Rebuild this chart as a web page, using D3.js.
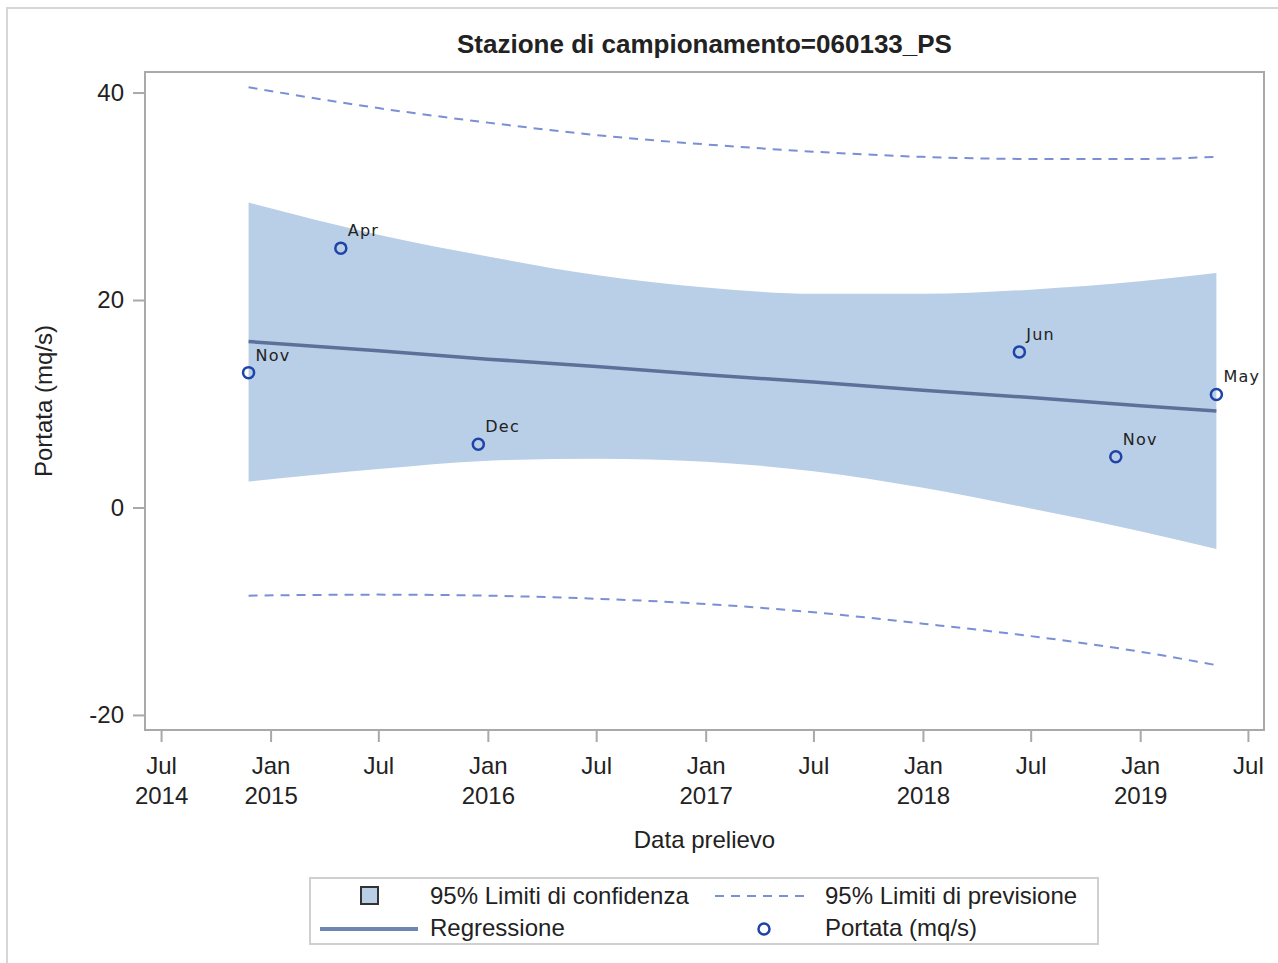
<!DOCTYPE html>
<html lang="it">
<head>
<meta charset="UTF-8">
<title>Stazione di campionamento=060133_PS</title>
<script src="https://cdn.jsdelivr.net/npm/d3@7"></script>
<style>
  body { margin: 0; background: #fff; }
  svg { display: block; }
  text { font-family: "Liberation Sans", Arial, sans-serif; fill: #222; }
</style>
</head>
<body>
<svg id="chart" width="1278" height="963"></svg>
<script>
// osservazioni
var obsDates  = ["2014-11-25", "2015-04-29", "2015-12-16", "2018-06-12", "2018-11-21", "2019-05-09"];
var obsLabels = ["Nov", "Apr", "Dec", "Jun", "Nov", "May"];
var portata   = [13.0, 25.0, 6.1, 15.0, 4.9, 10.9];

// retta di regressione e limiti al 95%
var fitDates    = ["2014-11-25", "2015-07-01", "2016-01-01", "2016-07-01", "2017-01-01",
                   "2017-07-01", "2018-01-01", "2018-07-01", "2019-01-01", "2019-05-09"];
var regressione = [16.0, 15.1, 14.3, 13.6, 12.8, 12.1, 11.3, 10.6, 9.8, 9.3];
var clmUpper    = [29.4, 26.3, 24.2, 22.4, 21.2, 20.6, 20.6, 21.0, 21.8, 22.6];
var clmLower    = [2.5, 3.7, 4.5, 4.7, 4.4, 3.5, 1.9, -0.1, -2.3, -4.0];
var cliUpper    = [40.5, 38.5, 37.1, 35.9, 35.0, 34.3, 33.8, 33.6, 33.6, 33.8];
var cliLower    = [-8.5, -8.4, -8.5, -8.8, -9.3, -10.1, -11.2, -12.4, -13.9, -15.2];

// assi
var xTickDates = ["2014-07-01", "2015-01-01", "2015-07-01", "2016-01-01", "2016-07-01", "2017-01-01",
                  "2017-07-01", "2018-01-01", "2018-07-01", "2019-01-01", "2019-07-01"];
var xTickMonth = ["Jul", "Jan", "Jul", "Jan", "Jul", "Jan", "Jul", "Jan", "Jul", "Jan", "Jul"];
var xTickYear  = ["2014", "2015", "", "2016", "", "2017", "", "2018", "", "2019", ""];
var yTicks = [-20, 0, 20, 40];

var parse = d3.utcParse("%Y-%m-%d");
var svg = d3.select("#chart");

var pl = 145, pr = 1264, pt = 72, pb = 730;

var x = d3.scaleUtc()
    .domain([parse("2014-06-04"), parse("2019-07-28")])
    .range([pl, pr]);
var y = d3.scaleLinear()
    .domain([-21.45, 41.98])
    .range([pb, pt]);

// cornice esterna (solo lati visibili)
svg.append("line").attr("x1", 7).attr("x2", 7).attr("y1", 8).attr("y2", 963)
    .attr("stroke", "#d6d6d6").attr("stroke-width", 2);
svg.append("line").attr("x1", 6).attr("x2", 1278).attr("y1", 8).attr("y2", 8)
    .attr("stroke", "#d6d6d6").attr("stroke-width", 2);

// titolo
svg.append("text")
    .attr("x", (pl + pr) / 2).attr("y", 53)
    .attr("text-anchor", "middle")
    .style("font-size", "26px").style("font-weight", "bold")
    .text("Stazione di campionamento=060133_PS");

var fit = fitDates.map(function(d, i) {
    return { date: parse(d), reg: regressione[i], lo: clmLower[i], hi: clmUpper[i],
             plo: cliLower[i], phi: cliUpper[i] };
});

// banda di confidenza
var band = d3.area()
    .x(function(d) { return x(d.date); })
    .y0(function(d) { return y(d.lo); })
    .y1(function(d) { return y(d.hi); })
    .curve(d3.curveMonotoneX);
svg.append("path").datum(fit).attr("d", band).attr("fill", "#b9cee7");

// limiti di previsione
["plo", "phi"].forEach(function(k) {
    var l = d3.line()
        .x(function(d) { return x(d.date); })
        .y(function(d) { return y(d[k]); })
        .curve(d3.curveMonotoneX);
    svg.append("path").datum(fit).attr("d", l)
        .attr("fill", "none").attr("stroke", "#7a8fd4")
        .attr("stroke-width", 2).attr("stroke-dasharray", "9,7");
});

// regressione
var regLine = d3.line()
    .x(function(d) { return x(d.date); })
    .y(function(d) { return y(d.reg); });
svg.append("path").datum(fit).attr("d", regLine)
    .attr("fill", "none").attr("stroke", "#5b7199").attr("stroke-width", 3.5);

// punti
var pts = obsDates.map(function(d, i) {
    return { date: parse(d), v: portata[i], lab: obsLabels[i] };
});
svg.selectAll(".pt").data(pts).enter().append("circle")
    .attr("class", "pt")
    .attr("cx", function(d) { return x(d.date); })
    .attr("cy", function(d) { return y(d.v); })
    .attr("r", 5.5)
    .attr("fill", "none").attr("stroke", "#1e44a8").attr("stroke-width", 2.5);
svg.selectAll(".lab").data(pts).enter().append("text")
    .attr("class", "lab")
    .attr("x", function(d) { return x(d.date) + 7; })
    .attr("y", function(d) { return y(d.v) - 12; })
    .style("font-family", "'DejaVu Sans', sans-serif")
    .style("font-size", "16px").style("letter-spacing", "1.2px")
    .attr("fill", "#1a1a1a")
    .text(function(d) { return d.lab; });

// cornice area dati
svg.append("rect")
    .attr("x", pl).attr("y", pt).attr("width", pr - pl).attr("height", pb - pt)
    .attr("fill", "none").attr("stroke", "#a9a9a9").attr("stroke-width", 2);

// asse y
var yAxis = svg.append("g").attr("transform", "translate(" + pl + ",0)")
    .call(d3.axisLeft(y).tickValues(yTicks).tickSize(12).tickPadding(9)
        .tickFormat(function(d) { return String(d); }));
yAxis.select(".domain").remove();
yAxis.selectAll(".tick line").attr("stroke", "#a9a9a9").attr("stroke-width", 2);
yAxis.selectAll(".tick text")
    .style("font-family", "'Liberation Sans', Arial, sans-serif")
    .style("font-size", "24px").attr("fill", "#222");

// asse x
var xAxis = svg.append("g").attr("transform", "translate(0," + pb + ")")
    .call(d3.axisBottom(x).tickValues(xTickDates.map(parse)).tickSize(12).tickFormat(""));
xAxis.select(".domain").remove();
xAxis.selectAll(".tick line").attr("stroke", "#a9a9a9").attr("stroke-width", 2);
xAxis.selectAll(".tick").each(function(d, i) {
    var t = d3.select(this).append("text")
        .attr("text-anchor", "middle")
        .style("font-family", "'Liberation Sans', Arial, sans-serif")
        .style("font-size", "24px").attr("fill", "#222");
    t.append("tspan").attr("x", 0).attr("y", 44).text(xTickMonth[i]);
    t.append("tspan").attr("x", 0).attr("y", 74).text(xTickYear[i]);
});

// titoli assi
svg.append("text")
    .attr("x", (pl + pr) / 2).attr("y", 848)
    .attr("text-anchor", "middle").style("font-size", "24px")
    .text("Data prelievo");
svg.append("text")
    .attr("transform", "translate(52," + (pt + pb) / 2 + ") rotate(-90)")
    .attr("text-anchor", "middle").style("font-size", "24px")
    .text("Portata (mq/s)");

// legenda
var lg = svg.append("g");
lg.append("rect").attr("x", 310).attr("y", 878).attr("width", 788).attr("height", 66)
    .attr("fill", "#fff").attr("stroke", "#d0d0d0").attr("stroke-width", 2);
lg.append("rect").attr("x", 361).attr("y", 887).attr("width", 17).attr("height", 17)
    .attr("fill", "#b9cee7").attr("stroke", "#333").attr("stroke-width", 2);
lg.append("line").attr("x1", 320).attr("x2", 418).attr("y1", 929).attr("y2", 929)
    .attr("stroke", "#6f87b0").attr("stroke-width", 4);
lg.append("line").attr("x1", 715).attr("x2", 806).attr("y1", 896).attr("y2", 896)
    .attr("stroke", "#7a8fd4").attr("stroke-width", 2).attr("stroke-dasharray", "9,7");
lg.append("circle").attr("cx", 764).attr("cy", 929).attr("r", 5.5)
    .attr("fill", "none").attr("stroke", "#1e44a8").attr("stroke-width", 2.5);
var lgText = [
    [430, 904, "95% Limiti di confidenza"],
    [430, 936, "Regressione"],
    [825, 904, "95% Limiti di previsione"],
    [825, 936, "Portata (mq/s)"]
];
lg.selectAll(".lt").data(lgText).enter().append("text")
    .attr("class", "lt")
    .attr("x", function(d) { return d[0]; })
    .attr("y", function(d) { return d[1]; })
    .style("font-size", "24px")
    .text(function(d) { return d[2]; });
</script>
</body>
</html>
